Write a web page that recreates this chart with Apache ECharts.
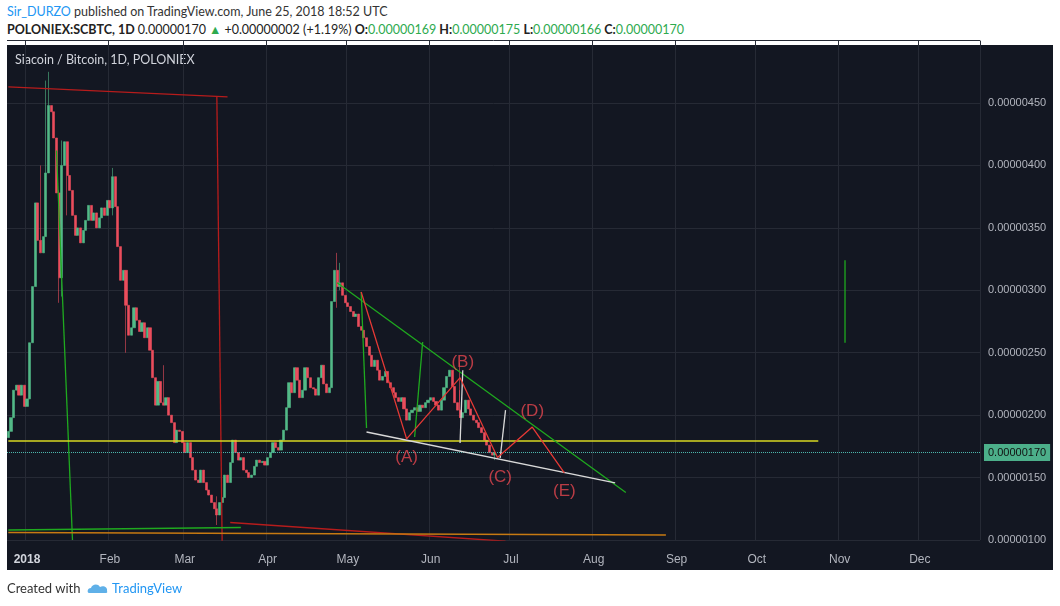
<!DOCTYPE html>
<html>
<head>
<meta charset="utf-8">
<script src="https://cdn.jsdelivr.net/npm/echarts@6/dist/echarts.min.js"></script>
<style>
  body { margin: 0; background: #fff; font-family: Lato, "Open Sans", sans-serif; }
  #wrap { position: relative; width: 1060px; height: 606px; overflow: hidden; }
  #head1 { position: absolute; left: 7px; top: 4px; font-size: 12.5px; color: #333; }
  #head2 { position: absolute; left: 7px; top: 22px; font-size: 12.5px; color: #222; font-weight: bold; }
  #head2 .g { color: #2eaa4f; font-weight: normal; }
  #panel { position: absolute; left: 7px; top: 45px; width: 1046px; height: 525px; background: #131722; }
  #main { position: absolute; left: 0; top: 0; width: 1060px; height: 606px; }
  #foot { position: absolute; left: 7px; top: 580px; font-size: 13px; color: #333; }
  #foot span { color: #2196f3; }
</style>
</head>
<body>
<div id="wrap">
  <div id="head1"><span style="color:#2196f3">Sir_DURZO</span> published on TradingView.com, June 25, 2018 18:52 UTC</div>
  <div id="head2">POLONIEX:SCBTC, 1D <span style="font-weight:normal">0.00000170</span> <span class="g">▲</span> <span style="font-weight:normal">+0.00000002 (+1.19%)</span> O:<span class="g">0.00000169</span> H:<span class="g">0.00000175</span> L:<span class="g">0.00000166</span> C:<span class="g">0.00000170</span></div>
  <div id="panel"></div>
  <div id="main"></div>
  <div id="foot">Created with &nbsp;<svg width="22" height="12" viewBox="0 0 22 12" style="vertical-align:-1px"><path d="M2 11 C0 11 0 6 4 6 C5 2 11 1 13 5 C16 3 21 5 20 9 C21 11 19 11 18 11 Z" fill="#5fb0e8"/></svg> <span>TradingView</span></div>
</div>
<script>
// closes in satoshi (1e-8 BTC), daily from 2017-12-25 to 2018-06-25
const closes = [
  187,198,220,224,216,224,207,213,258,303,
  370,340,330,343,394,448,443,422,378,310,
  400,419,392,380,360,344,350,338,348,356,
  368,356,362,350,358,366,360,372,366,391,
  367,335,308,316,288,264,270,286,276,267,
  274,262,270,252,230,208,227,210,208,214,
  200,194,178,188,
  187,178,170,178,166,156,148,146,156,146,
  140,136,130,125,120,130,134,152,146,162,
  180,170,164,166,156,154,150,152,159,164,
  162,163,160,166,170,178,174,172,180,188,
  206,226,218,238,228,214,220,238,230,222,
  221,216,230,240,225,218,222,291,316,303,
  306,296,290,287,283,279,281,271,268,262,
  255,248,239,244,236,228,231,235,226,222,
  218,214,211,214,205,196,202,204,206,203,
  208,206,210,212,214,211,208,204,212,222,
  231,236,223,210,204,198,202,212,205,200,
  196,194,190,186,180,176,170,168,170
];
const firstOpen = 182;
// notable wicks: [day index, high, low]
const wicks = [
  [12, 400, 330], [14, 468, 385], [15, 475, 440], [19, 380, 290], [20, 420, 295],
  [22, 400, 360], [39, 398, 360], [44, 295, 250], [58, 240, 208], [78, 135, 112],
  [123, 330, 286], [124, 322, 300], [169, 242, 220], [182, 172, 164]
];
const monthNames = ['2018','Feb','Mar','Apr','May','Jun','Jul','Aug','Sep','Oct','Nov','Dec'];
const lastPrice = 170;

// hand drawings: [day index from 2017-12-25, price]
const drawings = [
  { color: '#b71c1c', pts: [[0, 463], [82, 455]] },
  { color: '#b71c1c', pts: [[78, 455], [80, 96]] },
  { color: '#b71c1c', pts: [[83, 114], [186, 99]] },
  { color: '#1faa1f', pts: [[0, 108], [87, 110]] },
  { color: '#1faa1f', pts: [[18, 412], [24, 100]] },
  { color: '#c77a12', pts: [[0, 106], [246, 104]] },
  { color: '#d8d822', pts: [[0, 179.3], [303, 179.3]] },
  { color: '#1faa1f', pts: [[123, 306], [231, 138]] },
  { color: '#1faa1f', pts: [[132, 298.6], [134, 189.7]] },
  { color: '#1faa1f', pts: [[152, 182.5], [155, 258.6]] },
  { color: '#d9d9d9', pts: [[134, 186.5], [227, 145.7]] },
  { color: '#d9d9d9', pts: [[170, 236], [169, 177.7]] },
  { color: '#d9d9d9', pts: [[184, 165.7], [186, 204]] },
  { color: '#e53935', pts: [[132, 298.6], [149, 181], [169, 230], [183, 166], [196, 190.5], [208, 153.7]] },
  { color: '#1faa1f', pts: [[313, 324], [313, 258]] }
];
const waveLabels = [['(A)', 149, 166], ['(B)', 170, 242], ['(C)', 184, 150], ['(D)', 196, 203], ['(E)', 208, 139]];

const cats = [];
const start = new Date(Date.UTC(2017, 11, 25));
for (let i = 0; i < 364; i++) {
  const d = new Date(start.getTime() + i * 86400000);
  cats.push(d.toISOString().slice(0, 10));
}
const isMonthStart = (i) => cats[i].slice(8) === '01';

const candles = closes.map((c, i) => {
  const o = i === 0 ? firstOpen : closes[i - 1];
  let hi = Math.max(o, c), lo = Math.min(o, c);
  const w = wicks.find(x => x[0] === i);
  if (w) { hi = w[1]; lo = w[2]; }
  return [o, c, lo, hi];
});

const fmt = v => (v / 1e8).toFixed(8);

const lineSeries = drawings.map(d => ({
  type: 'line', silent: true, symbol: 'none', z: 5,
  lineStyle: { color: d.color, width: 1.3 },
  data: d.pts.map(p => [cats[p[0]], p[1]])
}));

const chart = echarts.init(document.getElementById('main'));
chart.setOption({
  animation: false,
  grid: { left: 7, right: 80, top: 40.6, bottom: 66 },
  graphic: [{ type: 'text', left: 15, top: 53, style: { text: 'Siacoin / Bitcoin, 1D, POLONIEX', fill: '#d1d4dc', font: '12.5px Lato, sans-serif' } }],
  xAxis: {
    type: 'category', data: cats, boundaryGap: true,
    axisLine: { show: false }, axisTick: { show: false },
    axisLabel: {
      interval: (i) => isMonthStart(i), color: '#b2b5be', fontSize: 12, margin: 14,
      formatter: (v) => {
        const m = parseInt(v.slice(5, 7)) - 1;
        return m === 0 ? '{b|' + monthNames[m] + '}' : monthNames[m];
      },
      rich: { b: { fontWeight: 'bold', color: '#d1d4dc', fontSize: 12 } }
    },
    splitLine: { show: true, interval: (i) => isMonthStart(i), lineStyle: { color: '#262a35' } }
  },
  yAxis: {
    type: 'value', position: 'right', min: 100, max: 500, interval: 50,
    axisLine: { show: false }, axisTick: { show: false },
    axisLabel: { color: '#b2b5be', fontSize: 11, margin: 8, formatter: v => v >= 500 ? '' : fmt(v) },
    splitLine: { lineStyle: { color: '#262a35' } }
  },
  series: [
    {
      type: 'candlestick', data: candles, barWidth: 2.6, z: 3,
      itemStyle: { color: '#53b987', color0: '#eb4d5c', borderColor: '#53b987', borderColor0: '#eb4d5c', borderWidth: 0.6 },
      markLine: {
        silent: true, symbol: 'none',
        lineStyle: { type: 'dotted', color: '#4db6ac', width: 1 },
        label: { position: 'end', formatter: () => fmt(lastPrice), backgroundColor: '#4caf8a', color: '#111', padding: [3, 4], fontSize: 11, distance: 4 },
        data: [{ yAxis: lastPrice }]
      }
    },
    ...lineSeries,
    {
      type: 'scatter', symbolSize: 0, z: 6,
      data: waveLabels.map(l => ({ name: l[0], value: [cats[l[1]], l[2]] })),
      label: { show: true, formatter: p => p.name, color: '#e5464f', fontSize: 17, position: 'inside' }
    }
  ]
});
</script>
</body>
</html>
